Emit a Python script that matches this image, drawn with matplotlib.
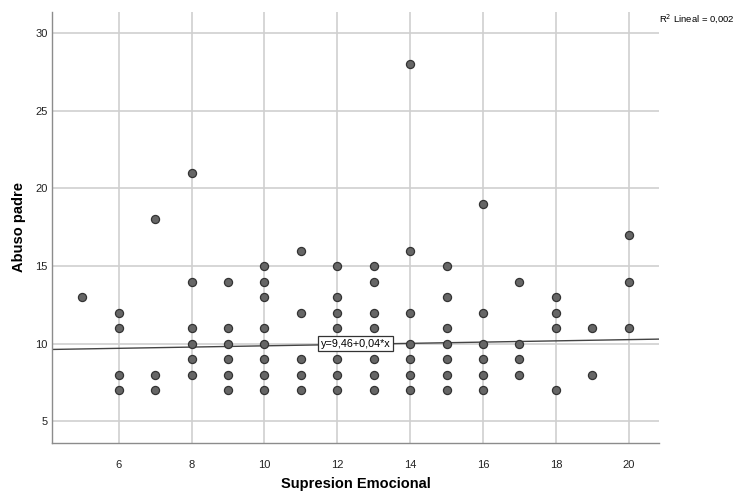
import matplotlib
matplotlib.use("Agg")
from matplotlib import pyplot as plt
import numpy as np

# scores per Supresion Emocional value (x) -> Abuso padre values (y)
supresion = [5, 6, 6, 6, 6, 7, 7, 7,
             8, 8, 8, 8, 8, 8,
             9, 9, 9, 9, 9, 9,
             10, 10, 10, 10, 10, 10, 10, 10,
             11, 11, 11, 11, 11,
             12, 12, 12, 12, 12, 12, 12, 12,
             13, 13, 13, 13, 13, 13, 13, 13,
             14, 14, 14, 14, 14, 14, 14,
             15, 15, 15, 15, 15, 15, 15,
             16, 16, 16, 16, 16, 16,
             17, 17, 17, 17,
             18, 18, 18, 18,
             19, 19,
             20, 20, 20]
abuso = [13, 12, 11, 8, 7, 18, 8, 7,
         21, 14, 11, 10, 9, 8,
         14, 11, 10, 9, 8, 7,
         15, 14, 13, 11, 10, 9, 8, 7,
         16, 12, 9, 8, 7,
         15, 13, 12, 11, 10, 9, 8, 7,
         15, 14, 12, 11, 10, 9, 8, 7,
         28, 16, 12, 10, 9, 8, 7,
         15, 13, 11, 10, 9, 8, 7,
         19, 12, 10, 9, 8, 7,
         14, 10, 9, 8,
         13, 12, 11, 7,
         11, 8,
         17, 14, 11]

intercept = 9.46
slope = 0.04
r2_text = "Lineal = 0,002"
eq_text = "y=9,46+0,04*x"

xticks = [6, 8, 10, 12, 14, 16, 18, 20]
yticks = [5, 10, 15, 20, 25, 30]

font = ["Liberation Sans Narrow", "Liberation Sans", "DejaVu Sans"]

fig = plt.figure(figsize=(7.34, 4.95), dpi=100)
ax = fig.add_axes([0.0708, 0.105, 0.827, 0.871])

xmin, xmax = 4.17, 20.83
ymin, ymax = 3.6, 31.37
ax.set_xlim(xmin, xmax)
ax.set_ylim(ymin, ymax)

ax.set_xticks(xticks)
ax.set_yticks(yticks)
ax.grid(True, color="#cfcfcf", linewidth=1.2)
ax.set_axisbelow(True)
ax.tick_params(length=0, labelsize=8, colors="#222222")
ax.tick_params(axis="x", pad=12)
ax.tick_params(axis="y", pad=3)
for lab in ax.get_xticklabels() + ax.get_yticklabels():
    lab.set_family(font)

for side in ["top", "right"]:
    ax.spines[side].set_visible(False)
for side in ["left", "bottom"]:
    ax.spines[side].set_color("#8c8c8c")
    ax.spines[side].set_linewidth(1.0)

# fit line
xl = np.array([xmin, xmax])
ax.plot(xl, intercept + slope * xl, color="#444444", linewidth=1.0, zorder=2)

ax.scatter(supresion, abuso, s=34, facecolor="#666666", edgecolor="#333333",
           linewidth=0.9, zorder=3)

ax.text(12.5, 10.0, eq_text, ha="center", va="center", fontsize=7.8,
        family=font, zorder=5,
        bbox=dict(boxstyle="square,pad=0.2", facecolor="white", edgecolor="#333333", linewidth=0.9))

fig.text(0.898, 0.962, "R$^2$ " + r2_text, fontsize=6.8, family=font, ha="left", va="center")

ax.set_xlabel("Supresion Emocional", fontsize=10.5, fontweight="bold", family=font)
ax.set_ylabel("Abuso padre", fontsize=10.5, fontweight="bold", family=font)
ax.xaxis.set_label_coords(0.5, -0.079)
ax.yaxis.set_label_coords(-0.043, 0.5)

fig.savefig("out.png", dpi=100)
